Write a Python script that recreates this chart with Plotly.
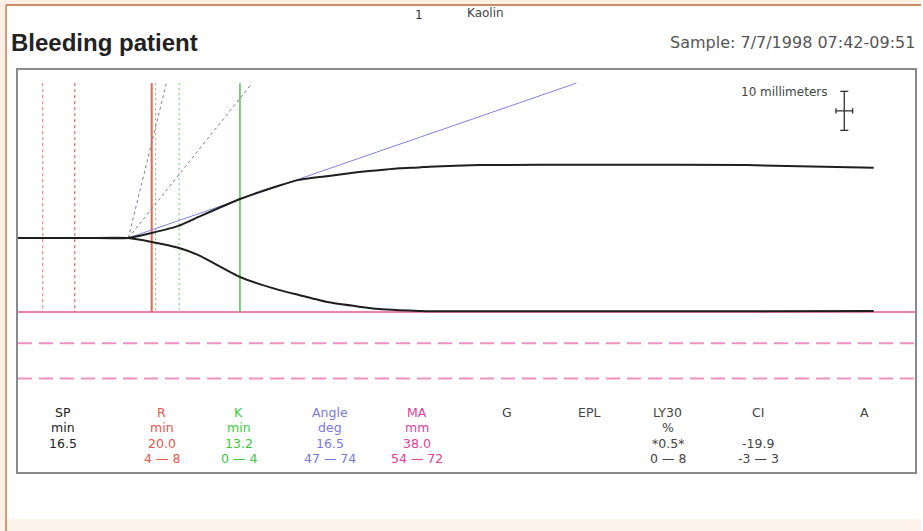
import numpy as np
import plotly.graph_objects as go

# ---------------- data ----------------
time_min = [0, 10.0, 16.5, 20.0, 24.0, 27.0, 33.2, 39.0, 42.0, 46.5, 51.0, 54.0, 57.0, 60.0, 61.5, 69.0, 87.0, 109.0, 128.0]
upper_mm = [0, 0, 0, 1.3, 3.1, 5.4, 10.0, 13.4, 14.9, 15.9, 16.9, 17.4, 17.9, 18.1, 18.3, 18.7, 18.8, 18.7, 18.0]
lower_mm = [0, 0, 0, 1.0, 2.5, 4.4, 10.0, 13.3, 14.6, 16.5, 17.6, 18.2, 18.5, 18.7, 18.8, 18.8, 18.8, 18.8, 18.7]

SP = 16.5
R = 20.0
K = 13.2
ANGLE = 16.5
MA = 38.0
R_marks = [3.7, 8.5]
K_marks = [20.6, 24.1]
angle_range = [47, 74]
MA_range = [54, 72]
top_mm = 39.7

params = ["SP", "R", "K", "Angle", "MA", "G", "EPL", "LY30", "CI", "A"]
units = ["min", "min", "min", "deg", "mm", "", "", "%", "", ""]
values = ["16.5", "20.0", "13.2", "16.5", "38.0", "", "", "*0.5*", "-19.9", ""]
ranges = ["", "4 — 8", "0 — 4", "47 — 74", "54 — 72", "", "", "0 — 8", "-3 — 3", ""]
param_colors = ["#222222", "#e8564e", "#3cc83c", "#7878e0", "#e0409a",
                "#444444", "#444444", "#444444", "#444444", "#444444"]
col_px = [63, 162, 239, 331, 418, 508, 590, 669, 760, 866]

# ---------------- geometry ----------------
W, H = 923, 531
L, Rm, T, B = 18, 6, 70, 59
PX_PER_MIN = 6.7
PX_PER_MM = 3.9
CENTER_Y = 238
x_range = [0, (W - L - Rm) / PX_PER_MIN]
y_range = [-(H - B - CENTER_Y) / PX_PER_MM, (CENTER_Y - T) / PX_PER_MM]
pw, ph = W - L - Rm, H - T - B

def px_x(px):
    return (px - L) / pw

def px_y(py):
    return (H - B - py) / ph

fig = go.Figure()

def line(x, y, color, width=1.0, dash="solid", shape="linear"):
    fig.add_trace(go.Scatter(x=x, y=y, mode="lines", hoverinfo="skip",
                             line=dict(color=color, width=width, dash=dash, shape=shape,
                                       smoothing=0.5 if shape == "spline" else None),
                             showlegend=False))

# pink MA lines
line(x_range, [-MA / 2] * 2, "#f07fb4", 2)
for v in MA_range:
    line(x_range, [-v / 2] * 2, "#f090c0", 2, "14px,7px")

# vertical markers
for i, v in enumerate(R_marks):
    line([v, v], [top_mm, -MA / 2], ["#e87070", "#b05050"][i], 1, "3px,3px")
for v in K_marks:
    line([v, v], [top_mm, -MA / 2], "#60c860", 1, "2px,3px")
line([R, R], [top_mm, -MA / 2], "#f06050", 2)
line([R + K, R + K], [top_mm, -MA / 2], "#50c050", 1.5)

# angle lines (2 mm per minute)
for a in angle_range:
    s = 2 * np.tan(np.radians(a))
    line([SP, SP + top_mm / s], [0, top_mm], "#7c7c9c", 1, "3px,3px")
s = 2 * np.tan(np.radians(ANGLE))
line([SP, SP + top_mm / s], [0, top_mm], "#8080e0", 1)

# tracing
line(time_min, upper_mm, "#1e1e1e", 2, shape="spline")
line(time_min, [-v for v in lower_mm], "#1e1e1e", 2, shape="spline")

# scale cross (10 mm)
cx, cy = 123.6, 32.6
hx = 5 / 2 / 2  # 5 mm horizontally at 2 mm/min -> minutes
line([cx, cx], [cy - 5, cy + 5], "#333333", 1.3)
line([cx - hx, cx + hx], [cy, cy], "#333333", 1.3)
cap_x = 0.6
cap_y = 0.7
line([cx - cap_x, cx + cap_x], [cy + 5, cy + 5], "#333333", 1.3)
line([cx - cap_x, cx + cap_x], [cy - 5, cy - 5], "#333333", 1.3)
line([cx - hx, cx - hx], [cy - cap_y, cy + cap_y], "#333333", 1.3)
line([cx + hx, cx + hx], [cy - cap_y, cy + cap_y], "#333333", 1.3)

ann = []
FONT = "DejaVu Sans"
ann.append(dict(x=px_x(831), y=px_y(92), xref="paper", yref="paper", text="10 millimeters",
                showarrow=False, xanchor="right", yanchor="middle",
                font=dict(family=FONT, size=12, color="#444444")))

# table
rows_y = [412, 427, 443, 458]
for i, p in enumerate(params):
    texts = [p, units[i], values[i], ranges[i]]
    for j, t in enumerate(texts):
        if not t:
            continue
        ann.append(dict(x=px_x(col_px[i]), y=px_y(rows_y[j]), xref="paper", yref="paper",
                        text=t, showarrow=False, xanchor="center", yanchor="middle",
                        font=dict(family=FONT, size=12.5, color=param_colors[i])))

# header texts
ann.append(dict(x=px_x(9), y=px_y(42), xref="paper", yref="paper", text="<b>Bleeding patient</b>",
                showarrow=False, xanchor="left", yanchor="middle",
                font=dict(family="Liberation Sans", size=24, color="#222222")))
ann.append(dict(x=px_x(420), y=px_y(15), xref="paper", yref="paper", text="1",
                showarrow=False, xanchor="center", yanchor="middle",
                font=dict(family=FONT, size=12, color="#333333")))
ann.append(dict(x=px_x(466), y=px_y(13), xref="paper", yref="paper", text="Kaolin",
                showarrow=False, xanchor="left", yanchor="middle",
                font=dict(family=FONT, size=12, color="#444444")))
ann.append(dict(x=px_x(919), y=px_y(42), xref="paper", yref="paper", text="Sample: 7/7/1998 07:42-09:51",
                showarrow=False, xanchor="right", yanchor="middle",
                font=dict(family=FONT, size=16, color="#555555")))

shapes = [
    dict(type="rect", xref="paper", yref="paper", x0=px_x(0), x1=px_x(W), y0=px_y(0), y1=px_y(5),
         fillcolor="#fcefe3", line=dict(width=0), layer="below"),
    dict(type="rect", xref="paper", yref="paper", x0=px_x(0), x1=px_x(6), y0=px_y(0), y1=px_y(H),
         fillcolor="#fcefe3", line=dict(width=0), layer="below"),
    dict(type="rect", xref="paper", yref="paper", x0=px_x(0), x1=px_x(W), y0=px_y(519), y1=px_y(H),
         fillcolor="#fdf3ea", line=dict(width=0), layer="below"),
    dict(type="line", xref="paper", yref="paper", x0=px_x(6), x1=px_x(W), y0=px_y(5), y1=px_y(5),
         line=dict(color="#c98a66", width=2)),
    dict(type="line", xref="paper", yref="paper", x0=px_x(6), x1=px_x(6), y0=px_y(5), y1=px_y(H),
         line=dict(color="#d49a76", width=2)),
]

fig.update_layout(
    width=W, height=H,
    margin=dict(l=L, r=Rm, t=T, b=B, pad=0),
    paper_bgcolor="white", plot_bgcolor="white",
    annotations=ann, shapes=shapes, showlegend=False,
    xaxis=dict(range=x_range, showgrid=False, zeroline=False, showticklabels=False, ticks="",
               showline=True, mirror=True, linecolor="#8a8a8a", linewidth=2, fixedrange=True),
    yaxis=dict(range=y_range, showgrid=False, zeroline=False, showticklabels=False, ticks="",
               showline=True, mirror=True, linecolor="#8a8a8a", linewidth=2, fixedrange=True),
)

fig.write_html("out.html", config={"displayModeBar": False},
               post_script="document.body.style.margin='0';document.body.style.overflow='hidden';")
